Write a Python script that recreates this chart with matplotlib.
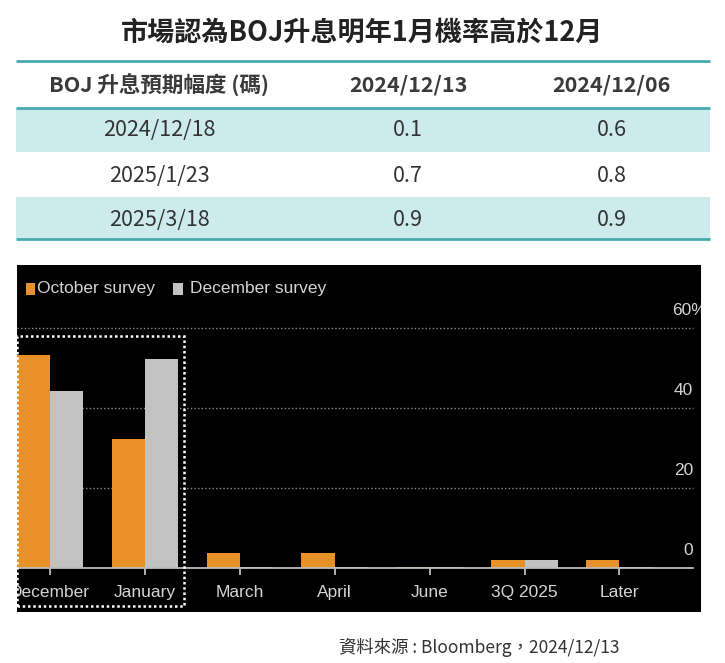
import numpy as np
import matplotlib
matplotlib.use("Agg")
import matplotlib.pyplot as plt
from matplotlib.patches import Rectangle
from matplotlib import font_manager as fm

# ---------------- data ----------------
title = "市場認為BOJ升息明年1月機率高於12月"
table_header = ["BOJ 升息預期幅度 (碼)", "2024/12/13", "2024/12/06"]
meeting_dates = ["2024/12/18", "2025/1/23", "2025/3/18"]
hikes_1213 = ["0.1", "0.7", "0.9"]
hikes_1206 = ["0.6", "0.8", "0.9"]

categories = ["December", "January", "March", "April", "June", "3Q 2025", "Later"]
october_survey = [53.2, 32.1, 3.8, 3.8, 0.3, 1.9, 1.9]
december_survey = [44.2, 52.2, 0.3, 0.3, 0.3, 1.9, 0.3]
series_names = ["October survey", "December survey"]
yticks = [0, 20, 40, 60]
source = "資料來源 : Bloomberg，2024/12/13"

# ---------------- style ----------------
W, H = 725, 663
names = {f.name for f in fm.fontManager.ttflist}
chart_font = "Liberation Sans Narrow" if "Liberation Sans Narrow" in names else "Liberation Sans"
chart_fs = 14 if chart_font == "Liberation Sans Narrow" else 12.5
cjk = ["Noto Sans CJK TC", "DejaVu Sans"]

ORANGE = "#E8912A"
GREY = "#C2C2C2"
TEAL = "#45AAB0"
BAND = "#CDEBED"
TXT = "#333333"
CH_TXT = "#D4D4D4"

fig = plt.figure(figsize=(W / 100, H / 100), dpi=100)
fig.patch.set_facecolor("white")

# overlay axes in pixel coordinates (for title/table/source)
ov = fig.add_axes([0, 0, 1, 1])
ov.set_xlim(0, W)
ov.set_ylim(H, 0)
ov.axis("off")

ov.text(362.5, 32.5, title, ha="center", va="center", fontsize=19.5,
        fontweight="bold", family=cjk, color="#222222")

# table
tl, tr = 16.5, 710
row_edges = [107.5, 152, 197, 238.5]
for i in range(3):
    if i % 2 == 0:
        ov.add_patch(Rectangle((tl, row_edges[i]), tr - tl, row_edges[i + 1] - row_edges[i],
                               facecolor=BAND, edgecolor="none"))
for y in [61, 107.5, 238.5]:
    ov.plot([tl, tr], [y, y], color=TEAL, lw=2, solid_capstyle="butt")

col_x = [159, 408, 611.5]
for cx, h in zip(col_x, table_header):
    ov.text(cx, 85, h, ha="center", va="center", fontsize=15.5, fontweight="bold",
            family=cjk, color="#3a3a3a")
row_y = [130.5, 175.5, 219.5]
for i in range(3):
    for cx, val in zip(col_x, [meeting_dates[i], hikes_1213[i], hikes_1206[i]]):
        ov.text(cx, row_y[i], val, ha="center", va="center", fontsize=15.5,
                fontweight="light", family=cjk, color=TXT)

ov.text(620, 647, source, ha="right", va="center", fontsize=12.5, family=cjk, color=TXT)

# ---------------- chart ----------------
left_px, right_px, top_px, bot_px = 16.5, 700.7, 265, 611.7
ax = fig.add_axes([left_px / W, 1 - bot_px / H, (right_px - left_px) / W, (bot_px - top_px) / H])
ax.set_facecolor("black")
for s in ax.spines.values():
    s.set_visible(False)
ax.set_xticks([])
ax.set_yticks([])

x0_px, unit_px = 50.0, 94.9
y0_px, yunit_px = 567.7, 4.0
xl = (left_px - x0_px) / unit_px
xr = (right_px - x0_px) / unit_px
ax.set_xlim(xl, xr)
ax.set_ylim((y0_px - bot_px) / yunit_px, (y0_px - top_px) / yunit_px)

x = np.arange(len(categories))
w = 0.35
ax.bar(x - w / 2, october_survey, w, color=ORANGE, zorder=2)
ax.bar(x + w / 2, december_survey, w, color=GREY, zorder=2)

grid_end = 6.776
for yv in yticks[1:]:
    ax.plot([xl, grid_end], [yv, yv], ls=(0, (1, 1.6)), color="#8c8c8c", lw=1.0, zorder=1)
ax.plot([xl, grid_end], [0, 0], color="#bdbdbd", lw=1.3, zorder=3)
ax.vlines(x, -1.8, 0, color="#bdbdbd", lw=1.3, zorder=3)

for i, c in enumerate(categories):
    ax.text(i, -6.25, c, ha="center", va="center", fontsize=chart_fs,
            family=chart_font, color=CH_TXT, clip_on=True)

for yv in yticks:
    if yv == 60:
        ax.text(6.554, yv + 4.4, f"{yv}%", ha="left", va="center", fontsize=chart_fs,
                family=chart_font, color=CH_TXT, clip_on=True)
    else:
        ax.text(grid_end, yv + 4.4, f"{yv}", ha="right", va="center", fontsize=chart_fs,
                family=chart_font, color=CH_TXT, clip_on=True)

# dotted highlight box around December & January
ax.add_patch(Rectangle((xl + 0.01, -9.6), 1.415 - xl - 0.01, 58 + 9.6, fill=False,
                       edgecolor="white", lw=1.8, ls=(0, (1, 1.1)), zorder=4))

# legend (pixel overlay on top)
lg = fig.add_axes([0, 0, 1, 1])
lg.set_xlim(0, W)
lg.set_ylim(H, 0)
lg.axis("off")
lg.add_patch(Rectangle((26, 283), 9.5, 12, facecolor=ORANGE, edgecolor="none"))
lg.text(37, 289, series_names[0], ha="left", va="center", fontsize=chart_fs,
        family=chart_font, color=CH_TXT)
lg.add_patch(Rectangle((173, 283), 10, 12, facecolor=GREY, edgecolor="none"))
lg.text(190, 289, series_names[1], ha="left", va="center", fontsize=chart_fs,
        family=chart_font, color=CH_TXT)

fig.savefig("out.png", dpi=100, facecolor="white")
